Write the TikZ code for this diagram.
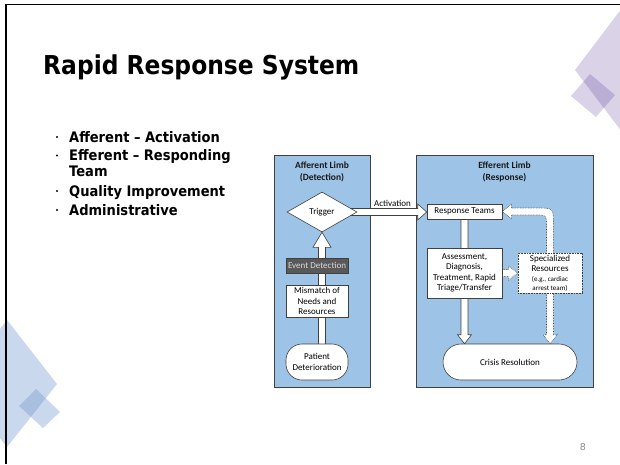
\documentclass[tikz,border=0pt]{standalone}
\usepackage{fontspec}
\setmainfont{Carlito}
\newfontfamily\tahfont[FakeStretch=0.9]{DejaVu Sans}
\newfontfamily\pgnumfont{DejaVu Sans}
\usetikzlibrary{shapes.geometric,calc}
\pgfdeclarelayer{paneltier}
\pgfdeclarelayer{arrowtier}
\pgfsetlayers{paneltier,arrowtier,main}
\definecolor{panelblue}{HTML}{9DC3E6}
\definecolor{boxline}{HTML}{404040}
\definecolor{evfill}{HTML}{595959}
\definecolor{evtext}{HTML}{D9D9D9}
\definecolor{lavlight}{HTML}{DAD3E8}
\definecolor{lavdark}{HTML}{BBAED5}
\definecolor{bluelight}{HTML}{C9D8EC}
\definecolor{bluedark}{HTML}{A8BFE0}
\definecolor{pagegray}{HTML}{8C8C8C}
\newcommand\dgfont{\fontsize{9}{10.5}\selectfont}
\newcommand\dgsmall{\fontsize{7}{8}\selectfont}
\tikzset{
  panel/.style={draw=boxline, fill=panelblue, line width=0.6pt},
  paneltitle/.style={font=\fontsize{9.5}{11.5}\selectfont\bfseries, align=center, text=black!90},
  box/.style={draw=boxline, fill=white, line width=0.6pt, inner sep=1pt, align=center, font=\dgfont},
  evbox/.style={box, fill=evfill, text=evtext},
  trigbox/.style={box, shape=diamond, minimum width=70pt, minimum height=40pt, inner sep=0pt},
  roundbox/.style={box, rounded corners=16pt},
  dotbox/.style={box, densely dotted},
  blockarrow/.style={draw=boxline, fill=white, line width=0.6pt, line join=miter},
  dotarrow/.style={blockarrow, densely dotted},
  bullettext/.style={anchor=base west, inner sep=0pt, font=\tahfont\bfseries\fontsize{14.5}{16}\selectfont},
  bulletdot/.style={circle, fill=black, inner sep=0pt, minimum size=2.4pt},
  frameline/.style={line width=1.6pt, draw=black}
}
\begin{document}
\begin{tikzpicture}[x=1pt,y=-1pt]
\useasboundingbox (0,0) rectangle (620,464);

\begin{pgfonlayer}{paneltier}
\fill[white] (0,0) rectangle (620,464);
% decorations top right
\begin{scope}
\clip (0,0) rectangle (620,464);
\fill[lavlight] (575,70) -- (622,8) -- (669,70) -- (622,132) -- cycle;
\fill[lavlight] (571,96) -- (590,74) -- (615,95) -- (596,117) -- cycle;
\begin{scope}
\clip (575,70) -- (622,8) -- (669,70) -- (622,132) -- cycle;
\fill[lavdark] (571,96) -- (590,74) -- (615,95) -- (596,117) -- cycle;
\end{scope}
% decorations bottom left
\fill[bluelight] (57,384) -- (7,447) -- (-43,384) -- (7,320) -- cycle;
\fill[bluelight] (19,406) -- (36,389) -- (60,412) -- (43,428) -- cycle;
\begin{scope}
\clip (57,384) -- (7,447) -- (-43,384) -- (7,320) -- cycle;
\fill[bluedark] (19,406) -- (36,389) -- (60,412) -- (43,428) -- cycle;
\end{scope}
\end{scope}
% frame
\draw[frameline] (6,464) -- (6,4.5) -- (620,4.5);
% panels
\path[panel] (274,155) rectangle (370,387);
\path[panel] (416,155) rectangle (593,387);
\end{pgfonlayer}

% title and bullets
\node[anchor=base west, inner sep=0pt, font=\tahfont\bfseries\fontsize{26}{30}\selectfont] (title) at (43,74) {Rapid Response System};
\node[bulletdot] (d1) at (57,137) {};
\node[bullettext] (b1) at (69,142) {Afferent – Activation};
\node[bulletdot] (d2) at (57,155.5) {};
\node[bullettext] (b2) at (69,160.5) {Efferent – Responding};
\node[bullettext] (b2b) at (69,176.5) {Team};
\node[bulletdot] (d3) at (57,191) {};
\node[bullettext] (b3) at (69,196) {Quality Improvement};
\node[bulletdot] (d4) at (57,210) {};
\node[bullettext] (b4) at (69,215) {Administrative};

\node[paneltitle] (afftitle) at (322,172) {Afferent Limb\\(Detection)};
\node[paneltitle] (efftitle) at (504.5,172) {Efferent Limb\\(Response)};

% boxes
\node[trigbox] (trig) at (322,212) {Trigger};
\node[evbox, minimum width=62pt, minimum height=15pt] (ev) at (317,265.5) {Event Detection};
\node[box, minimum width=62pt, minimum height=32pt] (mis) at (317,301) {Mismatch of\\Needs and\\Resources};
\node[roundbox, minimum width=62pt, minimum height=36pt] (pat) at (317,362) {Patient\\Deterioration};
\node[box, minimum width=75pt, minimum height=15pt] (rt) at (464.5,211.5) {Response Teams};
\node[box, minimum width=75pt, minimum height=50pt] (ass) at (464.5,273) {Assessment,\\Diagnosis,\\Treatment, Rapid\\Triage/Transfer};
\node[dotbox, minimum width=64pt, minimum height=40pt] (spec) at (550,273) {Specialized\\Resources\\[-1pt]{\dgsmall (e.g., cardiac}\\[-1.5pt]{\dgsmall arrest team)}};
\node[box, rounded corners=18pt, minimum width=134pt, minimum height=36pt] (cri) at (510,362) {Crisis Resolution};
\node[font=\dgfont, inner sep=0pt] (actlabel) at (392.5,203) {Activation};
\node[font=\pgnumfont\fontsize{9.5}{11}\selectfont, text=pagegray, inner sep=0pt] (pg) at (583,447) {8};

\begin{pgfonlayer}{arrowtier}
% patient -> trigger
\coordinate (tb) at (trig.south);
\draw[blockarrow] ($(pat.center -| tb)+(-3.5,0)$) -- ($(tb)+(-3.5,15)$) -- ($(tb)+(-9,15)$) -- (tb) -- ($(tb)+(9,15)$) -- ($(tb)+(3.5,15)$) -- ($(pat.center -| tb)+(3.5,0)$) -- cycle;
% activation: trigger -> response teams
\coordinate (at) at (rt.west |- trig.east);
\draw[blockarrow] ($(trig.east)+(-14,-3.5)$) -- ($(at)+(-9,-3.5)$) -- ($(at)+(-9,-8)$) -- (at) -- ($(at)+(-9,8)$) -- ($(at)+(-9,3.5)$) -- ($(trig.east)+(-14,3.5)$) -- cycle;
% response teams -> crisis
\coordinate (cn) at (rt.south |- cri.north);
\draw[blockarrow] ($(rt.center)+(-3.5,0)$) -- ($(cn)+(-3.5,-9)$) -- ($(cn)+(-7,-9)$) -- (cn) -- ($(cn)+(7,-9)$) -- ($(cn)+(3.5,-9)$) -- ($(rt.center)+(3.5,0)$) -- cycle;
% specialized -> response teams (curved, dotted)
\coordinate (c1) at (spec.north |- rt.east);
\draw[dotarrow] ($(spec.center)+(-3.5,0)$) -- ($(c1)+(-3.5,14)$) .. controls ($(c1)+(-3.5,3.5)$) .. ($(c1)+(-14,3.5)$) -- ($(rt.east)+(9,3.5)$) -- ($(rt.east)+(9,7)$) -- (rt.east) -- ($(rt.east)+(9,-7)$) -- ($(rt.east)+(9,-3.5)$) -- ($(c1)+(-14,-3.5)$) .. controls ($(c1)+(3.5,-3.5)$) .. ($(c1)+(3.5,14)$) -- ($(spec.center)+(3.5,0)$) -- cycle;
% specialized -> crisis (dotted)
\coordinate (cs) at (spec.south |- cri.north);
\draw[dotarrow] ($(spec.center)+(-3.5,0)$) -- ($(cs)+(-3.5,-9)$) -- ($(cs)+(-7,-9)$) -- (cs) -- ($(cs)+(7,-9)$) -- ($(cs)+(3.5,-9)$) -- ($(spec.center)+(3.5,0)$) -- cycle;
% assessment -> specialized (dotted)
\draw[dotarrow] ($(ass.east)+(-6,-3.5)$) -- ($(spec.west)+(-9,-3.5)$) -- ($(spec.west)+(-9,-7)$) -- (spec.west) -- ($(spec.west)+(-9,7)$) -- ($(spec.west)+(-9,3.5)$) -- ($(ass.east)+(-6,3.5)$) -- cycle;
\end{pgfonlayer}
\end{tikzpicture}
\end{document}
